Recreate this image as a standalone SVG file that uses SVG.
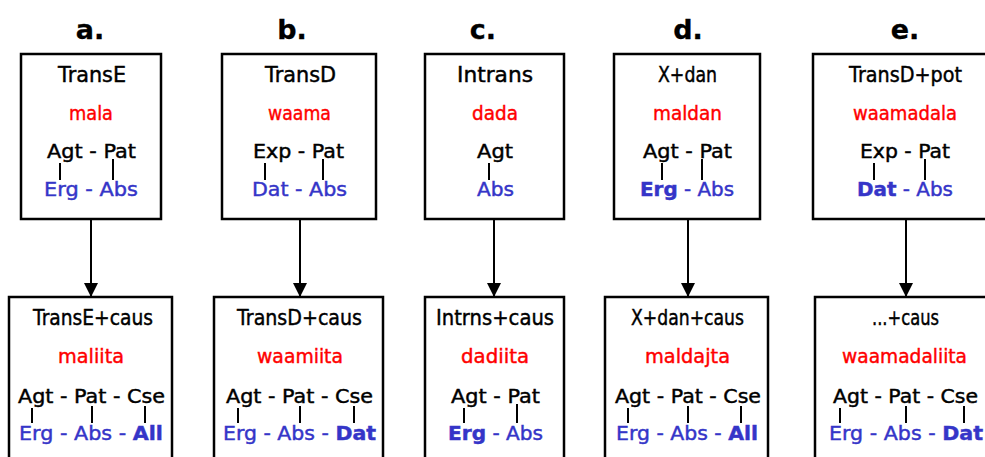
<svg xmlns="http://www.w3.org/2000/svg" width="985" height="457" viewBox="0 0 985 457">
<style>
text{font-family:"DejaVu Sans","Liberation Sans",sans-serif;font-size:20px;fill:#000;stroke:#000;stroke-width:0.45}
.t{font-size:21px}
.h{font-weight:bold;font-size:27px;text-anchor:middle;stroke-width:0.3}
.r{fill:#ff0000;stroke:#ff0000;font-size:20px}
.c{fill:#3535c8;stroke:#3535c8}
.b{font-weight:bold}
.box{fill:#fff;stroke:#000;stroke-width:2.5}
.tk{stroke:#000;stroke-width:2}
.ar{stroke:#000;stroke-width:2}
</style>
<defs>
<marker id="ah" markerWidth="14" markerHeight="15" refX="14" refY="7" orient="auto" markerUnits="userSpaceOnUse">
<path d="M0,0 L14,7 L0,14 Z" fill="#000"/>
</marker>
</defs>
<g id="labels">
<text class="h" x="90" y="39">a.</text>
<text class="h" x="292" y="39">b.</text>
<text class="h" x="483" y="39">c.</text>
<text class="h" x="688" y="39">d.</text>
<text class="h" x="905" y="39">e.</text>
</g>
<g id="connectors">
<line class="ar" x1="91" y1="219" x2="91" y2="297" marker-end="url(#ah)"/>
<line class="ar" x1="300" y1="219" x2="300" y2="297" marker-end="url(#ah)"/>
<line class="ar" x1="494" y1="219" x2="494" y2="297" marker-end="url(#ah)"/>
<line class="ar" x1="688" y1="219" x2="688" y2="297" marker-end="url(#ah)"/>
<line class="ar" x1="906" y1="219" x2="906" y2="297" marker-end="url(#ah)"/>
</g>
<g id="nodeA1">
<rect class="box" x="21" y="54" width="140" height="165"/>
<text class="t" x="58" y="82" textLength="68" lengthAdjust="spacingAndGlyphs">TransE</text>
<text class="r" x="69" y="120" textLength="44" lengthAdjust="spacingAndGlyphs">mala</text>
<text x="47" y="158" textLength="89" lengthAdjust="spacingAndGlyphs">Agt - Pat</text>
<line class="tk" x1="60" y1="163" x2="60" y2="180"/><line class="tk" x1="113" y1="159" x2="113" y2="180"/>
<text class="c" x="44" y="196" textLength="94" lengthAdjust="spacingAndGlyphs">Erg - Abs</text>
</g>
<g id="nodeB1">
<rect class="box" x="222" y="54" width="154" height="165"/>
<text class="t" x="265" y="82" textLength="71" lengthAdjust="spacingAndGlyphs">TransD</text>
<text class="r" x="268" y="120" textLength="63" lengthAdjust="spacingAndGlyphs">waama</text>
<text x="253" y="158" textLength="91" lengthAdjust="spacingAndGlyphs">Exp - Pat</text>
<line class="tk" x1="265" y1="163" x2="265" y2="180"/><line class="tk" x1="323" y1="159" x2="323" y2="180"/>
<text class="c" x="252" y="196" textLength="95" lengthAdjust="spacingAndGlyphs">Dat - Abs</text>
</g>
<g id="nodeC1">
<rect class="box" x="425" y="54" width="139" height="165"/>
<text class="t" x="457" y="82" textLength="76" lengthAdjust="spacingAndGlyphs">Intrans</text>
<text class="r" x="472" y="120" textLength="46" lengthAdjust="spacingAndGlyphs">dada</text>
<text x="477" y="158" textLength="36" lengthAdjust="spacingAndGlyphs">Agt</text>
<line class="tk" x1="489" y1="163" x2="489" y2="180"/>
<text class="c" x="477" y="196" textLength="37" lengthAdjust="spacingAndGlyphs">Abs</text>
</g>
<g id="nodeD1">
<rect class="box" x="614" y="54" width="146" height="165"/>
<text class="t" x="658" y="82" textLength="59" lengthAdjust="spacingAndGlyphs">X+dan</text>
<text class="r" x="653" y="120" textLength="69" lengthAdjust="spacingAndGlyphs">maldan</text>
<text x="643" y="158" textLength="89" lengthAdjust="spacingAndGlyphs">Agt - Pat</text>
<line class="tk" x1="662" y1="163" x2="662" y2="180"/><line class="tk" x1="702" y1="159" x2="702" y2="180"/>
<text class="c" x="640" y="196" textLength="94" lengthAdjust="spacingAndGlyphs"><tspan class="b">Erg</tspan> - Abs</text>
</g>
<g id="nodeE1">
<rect class="box" x="813" y="54" width="180" height="165"/>
<text class="t" x="849" y="82" textLength="113" lengthAdjust="spacingAndGlyphs">TransD+pot</text>
<text class="r" x="853" y="120" textLength="104" lengthAdjust="spacingAndGlyphs">waamadala</text>
<text x="860" y="158" textLength="90" lengthAdjust="spacingAndGlyphs">Exp - Pat</text>
<line class="tk" x1="874" y1="163" x2="874" y2="180"/><line class="tk" x1="925" y1="159" x2="925" y2="180"/>
<text class="c" x="857" y="196" textLength="96" lengthAdjust="spacingAndGlyphs"><tspan class="b">Dat</tspan> - Abs</text>
</g>
<g id="nodeA2">
<rect class="box" x="9" y="297" width="163" height="180"/>
<text class="t" x="33" y="325" textLength="120" lengthAdjust="spacingAndGlyphs">TransE+caus</text>
<text class="r" x="58" y="363" textLength="66" lengthAdjust="spacingAndGlyphs">maliita</text>
<text x="18" y="403" textLength="147" lengthAdjust="spacingAndGlyphs">Agt - Pat - Cse</text>
<line class="tk" x1="32" y1="408" x2="32" y2="423"/><line class="tk" x1="92" y1="406" x2="92" y2="423"/><line class="tk" x1="145" y1="406" x2="145" y2="423"/>
<text class="c" x="19" y="440" textLength="144" lengthAdjust="spacingAndGlyphs">Erg - Abs - <tspan class="b">All</tspan></text>
</g>
<g id="nodeB2">
<rect class="box" x="214" y="297" width="169" height="180"/>
<text class="t" x="237" y="325" textLength="125" lengthAdjust="spacingAndGlyphs">TransD+caus</text>
<text class="r" x="257" y="363" textLength="86" lengthAdjust="spacingAndGlyphs">waamiita</text>
<text x="226" y="403" textLength="147" lengthAdjust="spacingAndGlyphs">Agt - Pat - Cse</text>
<line class="tk" x1="238" y1="408" x2="238" y2="423"/><line class="tk" x1="300" y1="406" x2="300" y2="423"/><line class="tk" x1="354" y1="406" x2="354" y2="423"/>
<text class="c" x="223" y="440" textLength="153" lengthAdjust="spacingAndGlyphs">Erg - Abs - <tspan class="b">Dat</tspan></text>
</g>
<g id="nodeC2">
<rect class="box" x="425" y="297" width="139" height="180"/>
<text class="t" x="436" y="325" textLength="118" lengthAdjust="spacingAndGlyphs">Intrns+caus</text>
<text class="r" x="461" y="363" textLength="68" lengthAdjust="spacingAndGlyphs">dadiita</text>
<text x="451" y="403" textLength="89" lengthAdjust="spacingAndGlyphs">Agt - Pat</text>
<line class="tk" x1="464" y1="408" x2="464" y2="423"/><line class="tk" x1="517" y1="404" x2="517" y2="423"/>
<text class="c" x="448" y="440" textLength="95" lengthAdjust="spacingAndGlyphs"><tspan class="b">Erg</tspan> - Abs</text>
</g>
<g id="nodeD2">
<rect class="box" x="605" y="297" width="163" height="180"/>
<text class="t" x="631" y="325" textLength="113" lengthAdjust="spacingAndGlyphs">X+dan+caus</text>
<text class="r" x="645" y="363" textLength="85" lengthAdjust="spacingAndGlyphs">maldajta</text>
<text x="615" y="403" textLength="146" lengthAdjust="spacingAndGlyphs">Agt - Pat - Cse</text>
<line class="tk" x1="628" y1="408" x2="628" y2="423"/><line class="tk" x1="688" y1="406" x2="688" y2="423"/><line class="tk" x1="741" y1="406" x2="741" y2="423"/>
<text class="c" x="616" y="440" textLength="142" lengthAdjust="spacingAndGlyphs">Erg - Abs - <tspan class="b">All</tspan></text>
</g>
<g id="nodeE2">
<rect class="box" x="815" y="297" width="180" height="180"/>
<text class="t" x="872" y="325" textLength="67" lengthAdjust="spacingAndGlyphs">...+caus</text>
<text class="r" x="842" y="363" textLength="125" lengthAdjust="spacingAndGlyphs">waamadaliita</text>
<text x="833" y="403" textLength="145" lengthAdjust="spacingAndGlyphs">Agt - Pat - Cse</text>
<line class="tk" x1="840" y1="408" x2="840" y2="423"/><line class="tk" x1="906" y1="406" x2="906" y2="423"/><line class="tk" x1="964" y1="406" x2="964" y2="423"/>
<text class="c" x="829" y="440" textLength="154" lengthAdjust="spacingAndGlyphs">Erg - Abs - <tspan class="b">Dat</tspan></text>
</g>
</svg>
